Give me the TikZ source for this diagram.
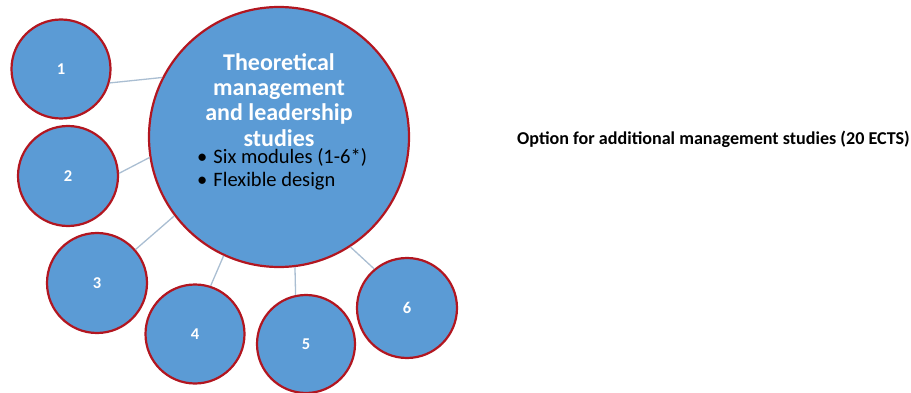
\documentclass[tikz,border=0pt]{standalone}
\usepackage{fontspec}
\setmainfont{Carlito}
\definecolor{circfill}{RGB}{91,155,213}
\definecolor{circline}{RGB}{178,22,32}
\definecolor{linkcol}{RGB}{170,190,210}
\begin{document}
\begin{tikzpicture}[x=1pt,y=-1pt,
  bubble/.style={circle,draw=circline,fill=circfill,line width=2.2pt,inner sep=0pt,
    text=white,font=\fontsize{16.5}{16.5}\selectfont\bfseries,minimum size=#1},
  link/.style={draw=linkcol,line width=1.3pt}]
\useasboundingbox (0,0) rectangle (911,393);
\node[bubble=260pt] (big) at (279,137) {};
\node[bubble=99pt] (c1) at (61,69) {1};
\node[bubble=100pt] (c2) at (68,176) {2};
\node[bubble=100pt] (c3) at (97,283) {3};
\node[bubble=99pt] (c4) at (195,334) {4};
\node[bubble=98pt] (c5) at (306,344) {5};
\node[bubble=100pt] (c6) at (407,308) {6};
\draw[link] (c1.-16) -- (big.153);
\draw[link] (c2.3) -- (big.189);
\draw[link] (c3.41) -- (big.217);
\draw[link] (c4.72) -- (big.245);
\draw[link] (c5.102) -- (big.277);
\draw[link] (c6.130) -- (big.303);
\node[align=center,text=white,font=\fontsize{24}{25.3}\selectfont\bfseries] (title) at (279,100)
  {Theoretical\\management\\and leadership\\studies};
\node[anchor=west,font=\fontsize{20.5}{23}\selectfont,align=left,inner sep=0pt] (bul) at (197,169)
  {\textbullet\hspace{6pt}Six modules (1-6*)\\\textbullet\hspace{6pt}Flexible design};
\node[anchor=west,font=\fontsize{18.1}{20}\selectfont\bfseries,inner sep=0pt] (opt) at (517,139)
  {Option for additional management studies (20 ECTS)};
\end{tikzpicture}
\end{document}
